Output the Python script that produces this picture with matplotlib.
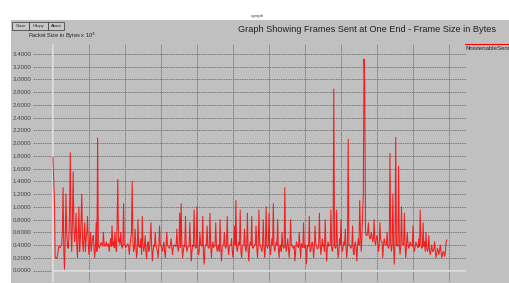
import matplotlib
matplotlib.use("Agg")
import matplotlib.pyplot as plt
from matplotlib.patches import Rectangle

plt.rcParams['font.family'] = ['Liberation Sans', 'DejaVu Sans']

# ---- data (packet size in bytes x 10^3), samples every 2 frames ----
x_step = 2
# readings at frames 0, 4, 8, ...
peaks_and_troughs = [
    1.78, 1.10, 0.20, 0.22, 0.38, 0.36, 0.40, 1.30, 0.02, 1.20,
    0.40, 0.50, 1.85, 0.30, 1.55, 0.45, 0.90, 0.20, 1.00, 0.50,
    1.20, 0.30, 0.75, 0.50, 0.85, 0.25, 0.60, 0.40, 0.55, 0.20,
    0.75, 2.08, 0.35, 0.42, 0.40, 0.60, 0.38, 0.45, 0.40, 0.30,
    0.50, 0.70, 0.45, 0.60, 0.30, 1.43, 0.50, 0.60, 0.35, 1.05,
    0.40, 0.38, 0.42, 0.25, 0.50, 1.40, 0.30, 0.65, 0.20, 0.80,
    0.40, 0.50, 0.85, 0.30, 0.55, 0.18, 0.45, 0.35, 0.75, 0.15,
    0.40, 0.60, 0.35, 0.20, 0.70, 0.38, 0.30, 0.45, 0.20, 0.60,
    0.38, 0.35, 0.50, 0.25, 0.40, 0.38, 0.65, 0.30, 0.90, 1.05,
    0.20, 0.40, 0.85, 0.30, 0.38, 0.75, 0.15, 0.40, 0.95, 0.35,
    1.00, 0.25, 0.60, 0.40, 0.85, 0.10, 0.40, 0.70, 0.35, 0.90,
    0.20, 0.45, 0.38, 0.75, 0.30, 0.40, 0.80, 0.15, 0.40, 0.60,
    0.35, 0.85, 0.25, 0.40, 0.50, 0.20, 0.70, 1.10, 0.30, 0.45,
    0.95, 0.20, 0.40, 0.65, 0.30, 0.90, 0.15, 0.45, 0.85, 0.35,
    0.40, 0.70, 0.20, 0.95, 0.40, 0.30, 0.80, 0.20, 1.00, 0.35,
    0.90, 0.25, 0.50, 1.05, 0.30, 0.45, 0.80, 0.20, 0.40, 0.60,
    0.35, 1.30, 0.30, 0.50, 0.20, 0.80, 0.40, 0.35, 0.15, 0.45,
    0.38, 0.60, 0.20, 0.40, 0.75, 0.35, 0.10, 0.40, 0.85, 0.30,
    0.45, 0.20, 0.70, 0.40, 0.35, 0.90, 0.25, 0.50, 0.40, 0.80,
    0.15, 0.45, 0.40, 0.95, 0.30, 2.85, 0.35, 0.95, 0.20, 0.50,
    0.80, 0.30, 0.45, 0.65, 0.20, 2.06, 0.40, 0.35, 0.70, 0.25,
    0.45, 0.15, 0.50, 1.10, 0.30, 0.90, 3.32, 0.60, 0.55, 0.75,
    0.50, 0.60, 0.45, 0.80, 0.40, 0.55, 0.30, 0.75, 0.45, 0.20,
    0.50, 0.40, 0.60, 0.35, 1.84, 0.30, 1.20, 0.10, 2.09, 0.40,
    1.64, 0.25, 1.00, 0.40, 0.90, 0.20, 0.60, 0.35, 0.45, 0.40,
    0.70, 0.30, 0.45, 0.40, 0.50, 0.95, 0.35, 0.75, 0.45, 0.60,
    0.30, 0.55, 0.25, 0.40, 0.30, 0.45, 0.20, 0.35, 0.25, 0.40,
    0.20, 0.30, 0.22, 0.45,
]
# readings at frames 2, 6, 10, ... (the dense baseline between them)
baseline = [
    1.40, 0.21, 0.19, 0.30, 0.37, 0.39, 0.60, 0.30, 0.50, 0.60,
    0.35, 0.90, 0.60, 0.80, 0.70, 0.60, 0.40, 0.55, 0.30, 0.80,
    0.45, 0.50, 0.30, 0.60, 0.40, 0.45, 0.30, 0.50, 0.35, 0.40,
    0.30, 0.40, 0.38, 0.44, 0.38, 0.42, 0.40, 0.38, 0.42, 0.40,
    0.38, 0.40, 0.36, 0.40, 0.70, 0.45, 0.40, 0.42, 0.38, 0.40,
    0.36, 0.40, 0.38, 0.40, 0.60, 0.45, 0.35, 0.40, 0.30, 0.38,
    0.36, 0.25, 0.40, 0.38, 0.30, 0.40, 0.30, 0.50, 0.38, 0.30,
    0.38, 0.40, 0.30, 0.38, 0.40, 0.36, 0.38, 0.30, 0.38, 0.40,
    0.36, 0.40, 0.38, 0.36, 0.40, 0.38, 0.38, 0.40, 0.36, 0.40,
    0.30, 0.38, 0.40, 0.36, 0.38, 0.40, 0.30, 0.38, 0.40, 0.36,
    0.38, 0.30, 0.40, 0.38, 0.25, 0.36, 0.40, 0.38, 0.36, 0.40,
    0.38, 0.36, 0.40, 0.38, 0.36, 0.30, 0.38, 0.36, 0.40, 0.38,
    0.40, 0.36, 0.38, 0.40, 0.30, 0.38, 0.40, 0.36, 0.38, 0.40,
    0.30, 0.38, 0.40, 0.36, 0.40, 0.30, 0.38, 0.40, 0.36, 0.38,
    0.40, 0.36, 0.38, 0.40, 0.36, 0.38, 0.40, 0.36, 0.38, 0.40,
    0.36, 0.38, 0.40, 0.36, 0.38, 0.40, 0.36, 0.38, 0.30, 0.40,
    0.36, 0.38, 0.40, 0.36, 0.38, 0.40, 0.36, 0.38, 0.30, 0.40,
    0.36, 0.38, 0.42, 0.36, 0.38, 0.40, 0.34, 0.38, 0.30, 0.40,
    0.36, 0.38, 0.40, 0.34, 0.38, 0.42, 0.36, 0.38, 0.30, 0.40,
    0.36, 0.38, 0.40, 0.36, 0.38, 0.40, 0.36, 0.38, 0.30, 0.40,
    0.36, 0.38, 0.40, 0.36, 0.38, 0.40, 0.36, 0.38, 0.30, 0.40,
    0.36, 0.38, 0.40, 0.60, 0.50, 1.20, 2.90, 0.55, 0.60, 0.55,
    0.50, 0.55, 0.50, 0.45, 0.50, 0.45, 0.40, 0.50, 0.45, 0.40,
    0.42, 0.40, 0.38, 0.40, 0.45, 0.40, 0.38, 0.42, 0.40, 0.38,
    0.40, 0.38, 0.42, 0.40, 0.38, 0.40, 0.42, 0.38, 0.40, 0.38,
    0.36, 0.38, 0.40, 0.36, 0.38, 0.40, 0.36, 0.38, 0.30, 0.36,
    0.34, 0.30, 0.32, 0.30, 0.34, 0.30, 0.28, 0.30, 0.32, 0.28,
    0.26, 0.28, 0.30, 0.48,
]
frame_sizes = []
for a, b in zip(peaks_and_troughs, baseline):
    frame_sizes += [a, b]
frame_index = [i * x_step for i in range(len(frame_sizes))]

y_ticks = [round(0.2 * k, 1) for k in range(18)]
x_grid = [100 * k for k in range(12)]
y_tick_labels = ["%.4f" % v for v in y_ticks]

title = "Graph Showing Frames Sent at One End - Frame Size in Bytes"
y_label = "Packet Size in Bytes x 10$^3$"
legend_label = "NnistenableSent"
buttons = ["Close", "Hdcpy", "About"]

# ---- figure ----
W, H = 510, 283
fig = plt.figure(figsize=(W / 100, H / 100), dpi=100, facecolor="white")

def fx(px):
    return px / W

def fy(py):
    return 1 - py / H

fig.patches.append(Rectangle((fx(11), 0), fx(499), 1 - 20 / H,
                             transform=fig.transFigure, facecolor="#c0c0c0",
                             edgecolor="none", zorder=-10))
fig.text(fx(258), fy(16), "xgraph", fontsize=3.2, color="#444",
         ha="center", va="center")

bx = 12
for lab, w in zip(buttons, [17, 19, 16]):
    fig.patches.append(Rectangle((fx(bx), fy(30)), fx(w), 8 / H,
                                 transform=fig.transFigure, facecolor="#c8c8c8",
                                 edgecolor="#333", linewidth=0.5, zorder=1))
    fig.text(fx(bx + w / 2), fy(26), lab, fontsize=3.0, color="#222",
             ha="center", va="center", zorder=2)
    bx += w

fig.text(fx(28), fy(35.5), y_label, fontsize=4.1, color="#222",
         ha="left", va="center")
fig.text(fx(496), fy(29), title, fontsize=6.6, color="#222",
         ha="right", va="center")

# ---- axes ----
left_px, right_px, top_px, bot_px = 33, 466, 44, 282
ax = fig.add_axes([fx(left_px), 1 - bot_px / H, (right_px - left_px) / W,
                   (bot_px - top_px) / H])
ax.set_facecolor("none")
for s in ax.spines.values():
    s.set_visible(False)

px_per_unit = 0.36
px_per_val = 63.7
ax.set_xlim((left_px - 53) / px_per_unit, (right_px - 53) / px_per_unit)
ax.set_ylim((270.5 - bot_px) / px_per_val, (270.5 - top_px) / px_per_val)

ax.set_yticks(y_ticks)
ax.set_yticklabels(y_tick_labels)
ax.set_xticks(x_grid)
ax.set_xticklabels([])
ax.tick_params(axis="y", length=0, pad=1.0, labelsize=4.4, labelcolor="#444")
ax.tick_params(axis="x", length=0)
ax.grid(True, color="#6a6a6a", linewidth=0.55, linestyle=(0, (2, 1)), zorder=1)
ax.axhline(0, xmin=(53 - left_px) / (right_px - left_px), color="#e2e2e2",
           linewidth=1.2, zorder=2)
ax.axvline(0, color="#e2e2e2", linewidth=1.2, zorder=2)

ax.plot(frame_index, frame_sizes, color="#ff0000", linewidth=0.75,
        alpha=0.85, zorder=3)

fig.lines.append(plt.Line2D([fx(465), fx(510)], [fy(44), fy(44)],
                            transform=fig.transFigure, color="#ff0000",
                            linewidth=0.8))
fig.text(fx(466), fy(48), legend_label, fontsize=4.3, color="#222",
         ha="left", va="center")

fig.savefig("out.png", dpi=100, facecolor="white")
